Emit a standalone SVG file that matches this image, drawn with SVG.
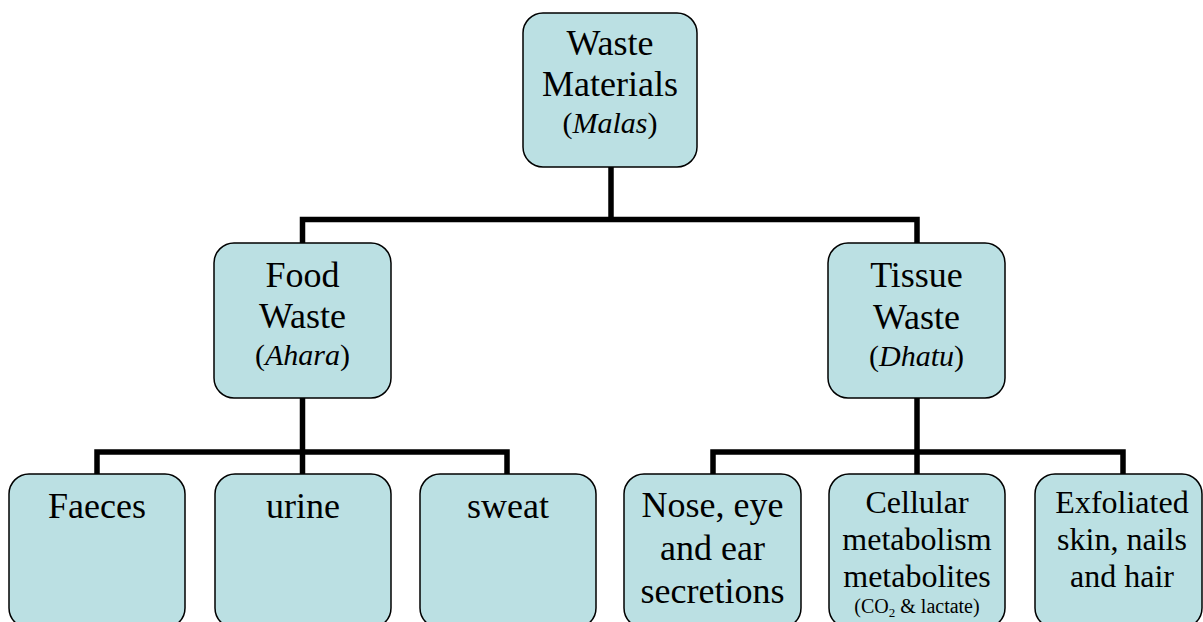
<svg xmlns="http://www.w3.org/2000/svg" width="1203" height="622" viewBox="0 0 1203 622">
<style>
.box{fill:#BBE0E3;stroke:#000;stroke-width:1.5}
.conn{fill:none;stroke:#000;stroke-width:5.5;stroke-linejoin:miter;stroke-linecap:butt}
.t{font-family:'Liberation Serif','DejaVu Serif','Times New Roman',serif;fill:#000;text-anchor:middle}
.l{font-size:36px}
.m{font-size:32px}
.p{font-size:30px}
.s{font-size:20px}
</style>
<rect width="1203" height="622" fill="#fff"/>
<g id="connectors">
<path class="conn" d="M611,167 V219.5"/>
<path class="conn" d="M302.5,243 V219.5 H917 V243"/>
<path class="conn" d="M302.5,398 V474"/>
<path class="conn" d="M97,474 V452 H507 V474"/>
<path class="conn" d="M917,398 V474"/>
<path class="conn" d="M713,474 V452 H1123 V474"/>
</g>
<g id="root" font-family="Liberation Serif, serif">
<rect class="box" x="523" y="13" width="174" height="154" rx="20"/>
<text class="t l" x="610" y="55">Waste</text>
<text class="t l" x="610" y="96">Materials</text>
<text class="t p" x="610" y="133">(<tspan font-style="italic">Malas</tspan>)</text>
</g>
<g id="food">
<rect class="box" x="214" y="243" width="177" height="155" rx="20"/>
<text class="t l" x="302.5" y="287">Food</text>
<text class="t l" x="302.5" y="328">Waste</text>
<text class="t p" x="302.5" y="365">(<tspan font-style="italic">Ahara</tspan>)</text>
</g>
<g id="tissue">
<rect class="box" x="828" y="243" width="177" height="155" rx="20"/>
<text class="t l" x="916.5" y="287">Tissue</text>
<text class="t l" x="916.5" y="329">Waste</text>
<text class="t p" x="916.5" y="366">(<tspan font-style="italic">Dhatu</tspan>)</text>
</g>
<g id="faeces">
<rect class="box" x="9" y="474" width="176" height="154" rx="20"/>
<text class="t l" x="97" y="518">Faeces</text>
</g>
<g id="urine">
<rect class="box" x="215" y="474" width="176" height="154" rx="20"/>
<text class="t l" x="303" y="518">urine</text>
</g>
<g id="sweat">
<rect class="box" x="420" y="474" width="176" height="154" rx="20"/>
<text class="t l" x="508" y="518">sweat</text>
</g>
<g id="nose">
<rect class="box" x="624" y="474" width="177" height="154" rx="20"/>
<text class="t l" x="712.5" y="517">Nose, eye</text>
<text class="t l" x="712.5" y="560">and ear</text>
<text class="t l" x="712.5" y="603">secretions</text>
</g>
<g id="cellular">
<rect class="box" x="829" y="474" width="176" height="154" rx="20"/>
<text class="t m" x="917" y="513">Cellular</text>
<text class="t m" x="917" y="550">metabolism</text>
<text class="t m" x="917" y="587">metabolites</text>
<text class="t s" x="917" y="613">(CO<tspan font-size="13" dy="4">2</tspan><tspan dy="-4"> &amp; lactate)</tspan></text>
</g>
<g id="exfoliated">
<rect class="box" x="1035" y="474" width="167" height="154" rx="20"/>
<text class="t m" x="1122" y="513">Exfoliated</text>
<text class="t m" x="1122" y="550">skin, nails</text>
<text class="t m" x="1122" y="587">and hair</text>
</g>
</svg>
